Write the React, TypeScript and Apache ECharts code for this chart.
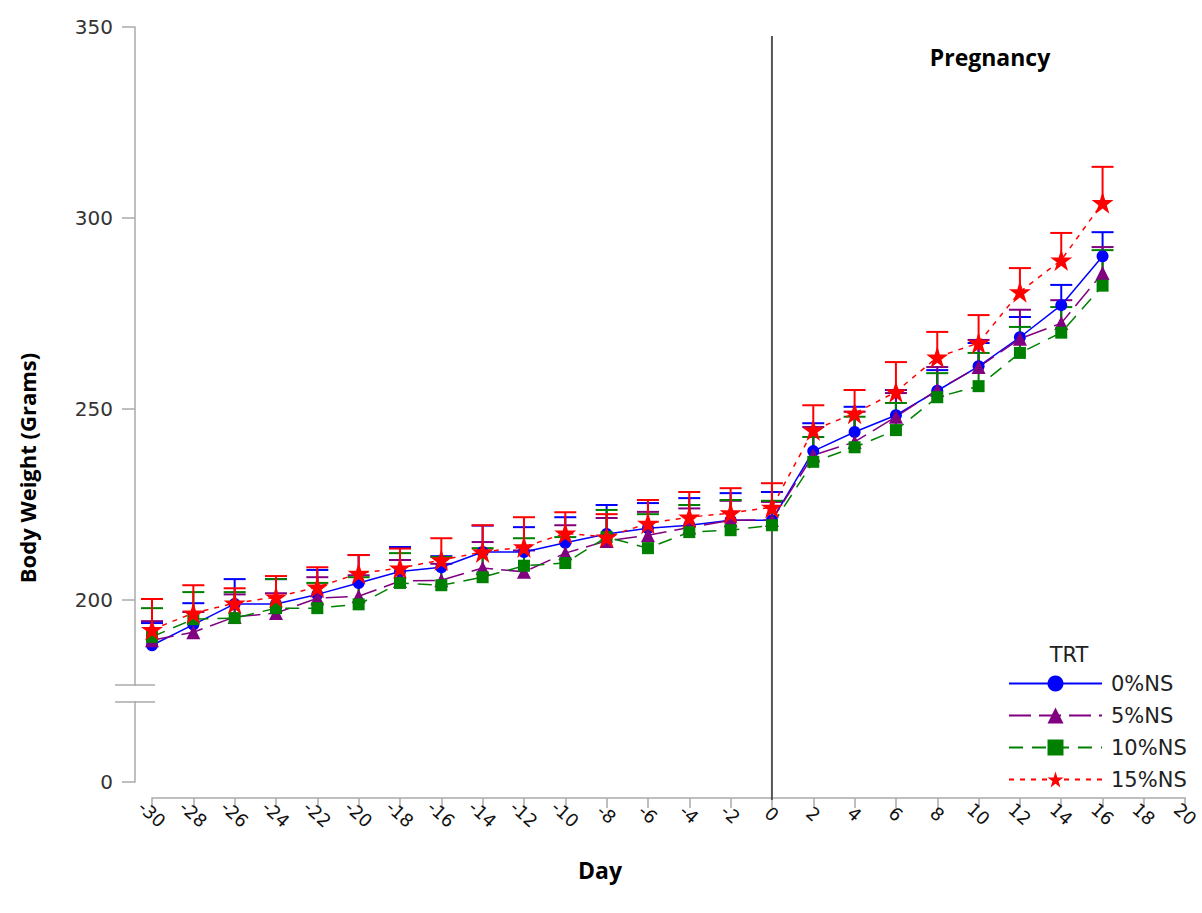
import React, { useEffect, useRef } from "react";
import * as echarts from "echarts";

const days = [-30, -28, -26, -24, -22, -20, -18, -16, -14, -12, -10, -8, -6, -4, -2, 0, 2, 4, 6, 8, 10, 12, 14, 16];

const ns0Mean = [188.2, 193.6, 199.0, 199.0, 201.5, 204.5, 207.5, 208.6, 212.6, 212.6, 215.0, 217.3, 218.8, 219.6, 220.9, 220.9, 239.0, 244.0, 248.4, 254.8, 261.2, 268.8, 277.2, 290.0];
const ns0Upper = [194.0, 199.2, 205.5, 205.5, 207.9, 211.8, 213.9, 211.5, 219.5, 219.1, 221.7, 224.9, 225.4, 226.7, 228.0, 228.3, 246.3, 250.6, 255.0, 260.2, 267.3, 274.1, 282.5, 296.3];

const ns5Mean = [189.5, 191.6, 195.6, 196.6, 200.5, 201.0, 205.0, 205.2, 208.4, 207.4, 212.3, 215.5, 217.0, 219.0, 220.9, 221.0, 237.9, 241.4, 248.0, 255.0, 261.0, 268.4, 272.5, 285.6];
const ns5Upper = [194.5, 196.9, 201.5, 201.8, 206.0, 206.5, 210.5, 209.5, 215.2, 213.0, 219.6, 221.5, 223.1, 224.0, 226.0, 225.7, 245.3, 249.3, 254.2, 261.0, 268.1, 276.0, 278.5, 292.4];

const ns10Mean = [190.4, 195.0, 195.3, 197.9, 197.9, 198.9, 204.5, 203.9, 206.0, 209.0, 209.7, 216.5, 213.6, 217.8, 218.3, 219.6, 236.2, 240.0, 244.5, 253.1, 256.0, 264.7, 270.0, 282.3];
const ns10Upper = [197.9, 202.1, 202.1, 205.5, 204.5, 206.0, 212.3, 211.3, 213.6, 216.2, 216.5, 223.6, 222.5, 224.9, 226.2, 226.0, 242.7, 248.0, 251.6, 259.4, 264.7, 271.5, 276.7, 291.6];

const ns15Mean = [192.3, 196.6, 199.2, 200.8, 203.4, 207.0, 208.4, 210.5, 212.6, 213.9, 217.5, 216.5, 220.1, 221.7, 222.8, 224.3, 244.5, 248.9, 254.5, 263.6, 267.3, 280.7, 289.0, 304.0];
const ns15Upper = [200.3, 203.9, 203.1, 206.3, 208.6, 211.8, 213.5, 216.2, 219.6, 221.7, 223.0, 222.5, 226.2, 228.3, 229.3, 230.6, 251.0, 255.0, 262.3, 270.2, 274.6, 286.9, 296.1, 313.4];

const groupNames = ["0%NS", "5%NS", "10%NS", "15%NS"];
const groupColors = ["#0000ff", "#800080", "#008000", "#ff0000"];
const starPath = "path://M50,0 L61.8,35.4 L100,35.4 L69.1,57.3 L80.9,93.3 L50,70.8 L19.1,93.3 L30.9,57.3 L0,35.4 L38.2,35.4 Z";
const groupSymbols = ["circle", "triangle", "rect", starPath];
const groupSymbolSizes = [12, 14, 12, 22];
const groupDash: any[] = ["solid", [22, 8], [14, 9], [5, 6]];
const groupMeans = [ns0Mean, ns5Mean, ns10Mean, ns15Mean];
const groupUppers = [ns0Upper, ns5Upper, ns10Upper, ns15Upper];

// Broken y axis: the bottom of the axis stands for 0
const yAxisFloor = 152.4;
const yAxisTop = 350;
const yTickValues = [yAxisFloor, 200, 250, 300, 350];
const yTickLabels = ["0", "200", "250", "300", "350"];
const xMin = -30;
const xMax = 20;
const xStep = 2;
const pregnancyStartDay = 0;

const labelFont = "'DejaVu Sans', Verdana, sans-serif";
const titleFont = "'Open Sans', Lato, sans-serif";

export default function App() {
  const ref = useRef<HTMLDivElement>(null);
  useEffect(() => {
    if (!ref.current) return;
    const chart = echarts.init(ref.current, null, { renderer: "svg" });
    const series: any[] = [];
    groupNames.forEach((name, g) => {
      const color = groupColors[g];
      series.push({
        name: name + " SE",
        type: "custom",
        data: days.map((d, i) => [d, groupMeans[g][i], groupUppers[g][i]]),
        encode: { x: 0, y: [1, 2] },
        z: 2,
        renderItem: (params: any, api: any) => {
          const x = api.value(0);
          const p0 = api.coord([x, api.value(1)]);
          const p1 = api.coord([x, api.value(2)]);
          const hw = 11;
          return {
            type: "group",
            children: [
              { type: "line", shape: { x1: p0[0], y1: p0[1], x2: p1[0], y2: p1[1] }, style: { stroke: color, lineWidth: 2 } },
              { type: "line", shape: { x1: p1[0] - hw, y1: p1[1], x2: p1[0] + hw, y2: p1[1] }, style: { stroke: color, lineWidth: 2 } },
            ],
          };
        },
      });
      series.push({
        name,
        type: "line",
        data: days.map((d, i) => [d, groupMeans[g][i]]),
        symbol: groupSymbols[g],
        symbolSize: groupSymbolSizes[g],
        showAllSymbol: true,
        z: 3,
        itemStyle: { color, borderWidth: 0 },
        lineStyle: { color, width: 1.5, type: groupDash[g] },
      });
    });

    chart.setOption({
      animation: false,
      grid: { left: 152, right: 15, top: 27, bottom: 131, containLabel: false },
      legend: {
        data: groupNames,
        orient: "vertical",
        left: 1003,
        top: 668,
        itemWidth: 93,
        itemHeight: 20,
        itemGap: 11,
        textStyle: { fontFamily: labelFont, fontSize: 21, color: "#222", padding: [0, 0, 0, 4] },
      },
      xAxis: {
        type: "value",
        min: xMin,
        max: xMax,
        interval: xStep,
        offset: 16,
        splitLine: { show: false },
        axisLine: { show: true, onZero: false, lineStyle: { color: "#aaaaaa", width: 1.5 } },
        axisTick: { show: true, length: 10, lineStyle: { color: "#aaaaaa", width: 1.5 } },
        axisLabel: {
          rotate: -42,
          align: "center",
          verticalAlign: "middle",
          margin: 16,
          fontFamily: labelFont,
          fontSize: 18,
          color: "#111",
        },
      },
      yAxis: {
        type: "value",
        min: yAxisFloor,
        max: yAxisTop,
        offset: 17,
        splitLine: { show: false },
        axisLine: { show: true, onZero: false, lineStyle: { color: "#aaaaaa", width: 1.5 } },
        axisTick: { show: true, length: 13, customValues: yTickValues, lineStyle: { color: "#aaaaaa", width: 1.5 } },
        axisLabel: {
          customValues: yTickValues,
          formatter: (v: number) => {
            const i = yTickValues.findIndex((t) => Math.abs(t - v) < 0.01);
            return i >= 0 ? yTickLabels[i] : "";
          },
          margin: 22,
          fontFamily: labelFont,
          fontSize: 20,
          color: "#333",
        },
      },
      series,
    });

    const zeroX = chart.convertToPixel({ xAxisIndex: 0 }, pregnancyStartDay) as number;
    const yTop = chart.convertToPixel({ yAxisIndex: 0 }, yAxisTop) as number;
    const yFloor = chart.convertToPixel({ yAxisIndex: 0 }, yAxisFloor) as number;
    const axisX = 135;
    const breakY1 = 685;
    const breakY2 = 702;
    chart.setOption({
      graphic: [
        { type: "line", z: 1, shape: { x1: zeroX, y1: yTop + 9, x2: zeroX, y2: yFloor + 18 }, style: { stroke: "#555", lineWidth: 2 } },
        { type: "rect", z: 100, shape: { x: axisX - 4, y: breakY1 + 1, width: 8, height: breakY2 - breakY1 - 2 }, style: { fill: "#fff" } },
        { type: "line", z: 101, shape: { x1: axisX - 20, y1: breakY1, x2: axisX + 20, y2: breakY1 }, style: { stroke: "#aaaaaa", lineWidth: 1.5 } },
        { type: "line", z: 101, shape: { x1: axisX - 20, y1: breakY2, x2: axisX + 20, y2: breakY2 }, style: { stroke: "#aaaaaa", lineWidth: 1.5 } },
        {
          type: "text", z: 10, x: 27, y: 468, rotation: Math.PI / 2,
          style: { text: "Body Weight (Grams)", font: `bold 22px ${titleFont}`, fill: "#000", textAlign: "center", textVerticalAlign: "middle" },
        },
        {
          type: "text", z: 10, x: 600, y: 870,
          style: { text: "Day", font: `bold 23px ${titleFont}`, fill: "#000", textAlign: "center", textVerticalAlign: "middle" },
        },
        {
          type: "text", z: 10, x: 990, y: 57,
          style: { text: "Pregnancy", font: `bold 23px ${titleFont}`, fill: "#000", textAlign: "center", textVerticalAlign: "middle" },
        },
        {
          type: "text", z: 10, x: 1069, y: 655,
          style: { text: "TRT", font: `21px ${labelFont}`, fill: "#222", textAlign: "center", textVerticalAlign: "middle" },
        },
      ],
    });

    return () => chart.dispose();
  }, []);
  return <div ref={ref} style={{ position: "absolute", left: 0, top: 0, width: 1202, height: 913 }} />;
}
